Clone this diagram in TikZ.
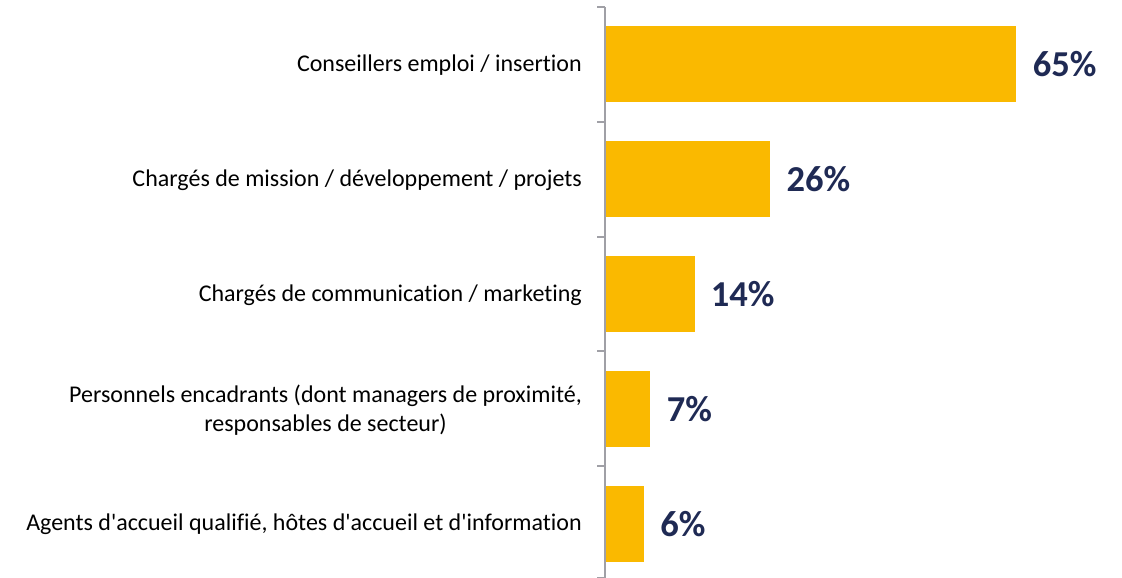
\documentclass[tikz,border=0pt]{standalone}
\usepackage{fontspec}
\setmainfont[Ligatures={TeX,NoCommon}]{Carlito}
\newfontfamily\catfont[Ligatures=NoCommon]{Carlito}
\definecolor{barcol}{RGB}{250,185,0}
\definecolor{navy}{RGB}{31,42,84}
\definecolor{axiscol}{RGB}{160,160,166}
\begin{document}
\begin{tikzpicture}[x=1pt,y=-1pt,
  bar/.style={fill=barcol,draw=none,inner sep=0pt,minimum height=76pt,anchor=west},
  val/.style={text=navy,font=\fontsize{36.5}{40}\selectfont\bfseries,anchor=west,inner sep=0pt},
  cat/.style={font=\catfont\fontsize{24}{28.5}\selectfont,align=center,anchor=east,inner sep=0pt,text=black},
  axis/.style={draw=axiscol,line width=1.8pt}]
\useasboundingbox (0,0) rectangle (1122,578);
% axis
\coordinate (atop) at (605,7);
\coordinate (abot) at (605,578);
\draw[axis] (atop) -- (abot);
\foreach \y in {7,122,237,351,466,578}{
  \draw[axis] (597,\y) -- (605,\y);
}
% bars
\foreach \n/\v/\y in {a/65/64,b/26/179,c/14/294,d/7/409,e/6/524}{
  \node[bar,minimum width=\v*6.31pt] (bar\n) at (606,\y) {};
  \node[val] (val\n) at ([xshift=16pt]bar\n.east) {\v\%};
}
% category labels
\node[cat] (cata) at (582,65) {Conseillers emploi / insertion};
\node[cat] (catb) at (582,180) {Chargés de mission / développement / projets};
\node[cat] (catc) at (582,295) {Chargés de communication / marketing};
\node[cat] (catd) at (582,410) {Personnels encadrants (dont managers de proximité,\\responsables de secteur)};
\node[cat] (cate) at (582,524) {Agents d'accueil qualifié, hôtes d'accueil et d'information};
\end{tikzpicture}
\end{document}
